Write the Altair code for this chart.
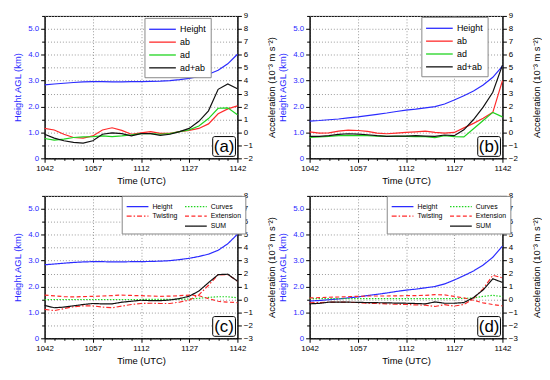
import altair as alt
import pandas as pd

FONT = "Liberation Sans"
BLUE = "#2b2bff"
RED = "#ff2a2a"
GREEN = "#1fd41f"
BLACK = "#111111"

# minutes after 10:42 UTC
times = [0, 3, 6, 9, 12, 15, 18, 21, 24, 27, 30, 33, 36, 39, 42, 45, 48, 51, 54, 57, 60]

# ---- panel (a) ----
a_height = [2.84, 2.87, 2.90, 2.93, 2.95, 2.96, 2.96, 2.95, 2.95, 2.96, 2.96, 2.97, 2.98, 3.00, 3.04, 3.09, 3.16, 3.25, 3.40, 3.65, 4.02]
a_ab = [0.31, 0.19, -0.14, -0.39, -0.44, -0.27, 0.19, 0.36, 0.16, -0.14, -0.04, 0.06, -0.07, -0.07, 0.06, 0.16, 0.31, 0.66, 1.44, 1.82, 2.05]
a_ad = [-0.47, -0.59, -0.52, -0.39, -0.34, -0.32, -0.27, -0.32, -0.27, -0.19, -0.09, -0.09, -0.14, -0.09, 0.06, 0.20, 0.50, 1.07, 1.87, 1.90, 1.37]
a_sum = [-0.14, -0.44, -0.64, -0.77, -0.82, -0.64, -0.14, -0.04, -0.09, -0.27, -0.09, -0.09, -0.22, -0.14, 0.06, 0.31, 0.86, 1.67, 3.33, 3.75, 3.38]

# ---- panel (b) ----
b_height = [1.44, 1.46, 1.49, 1.52, 1.56, 1.60, 1.65, 1.70, 1.75, 1.81, 1.86, 1.90, 1.95, 2.00, 2.10, 2.25, 2.42, 2.60, 2.83, 3.13, 3.56]
b_ab = [0.05, -0.05, -0.03, 0.10, 0.18, 0.15, 0.08, -0.05, -0.10, -0.05, 0.00, 0.05, 0.10, 0.00, -0.05, 0.00, 0.35, 0.70, 1.10, 1.55, 4.00]
b_ad = [-0.38, -0.35, -0.30, -0.25, -0.23, -0.25, -0.25, -0.28, -0.30, -0.30, -0.30, -0.33, -0.33, -0.40, -0.25, -0.33, -0.35, 0.28, 0.92, 1.55, 1.20]
b_sum = [-0.30, -0.30, -0.25, -0.15, -0.10, -0.13, -0.18, -0.25, -0.30, -0.28, -0.28, -0.25, -0.28, -0.30, -0.20, -0.25, 0.20, 1.00, 1.95, 3.10, 5.20]

# ---- panel (c) ----
c_height = [2.84, 2.87, 2.90, 2.93, 2.95, 2.96, 2.96, 2.95, 2.95, 2.96, 2.96, 2.97, 2.98, 3.00, 3.04, 3.09, 3.16, 3.25, 3.40, 3.65, 4.02]
c_curves = [-0.01, 0.0, 0.0, 0.0, 0.0, 0.0, 0.0, 0.0, 0.0, 0.0, 0.0, 0.01, 0.01, 0.01, 0.02, 0.04, 0.09, 0.16, 0.21, 0.21, 0.13]
c_twist = [-0.76, -0.86, -0.71, -0.56, -0.49, -0.49, -0.59, -0.64, -0.51, -0.39, -0.31, -0.29, -0.31, -0.31, -0.20, -0.05, 0.35, 1.10, 1.90, 1.92, 1.42]
c_ext = [0.34, 0.28, 0.22, 0.20, 0.22, 0.24, 0.27, 0.30, 0.34, 0.31, 0.29, 0.27, 0.24, 0.26, 0.29, 0.34, 0.29, 0.07, -0.14, -0.21, -0.24]
c_sum = [-0.46, -0.64, -0.59, -0.49, -0.39, -0.31, -0.34, -0.34, -0.21, -0.14, -0.06, -0.09, -0.09, -0.04, 0.07, 0.25, 0.65, 1.30, 1.92, 1.95, 1.42]

# ---- panel (d) ----
d_height = [1.44, 1.46, 1.49, 1.52, 1.56, 1.60, 1.65, 1.70, 1.75, 1.81, 1.86, 1.90, 1.95, 2.00, 2.10, 2.25, 2.42, 2.60, 2.83, 3.13, 3.56]
d_curves = [0.07, 0.07, 0.07, 0.07, 0.07, 0.07, 0.07, 0.07, 0.07, 0.07, 0.07, 0.07, 0.07, 0.07, 0.07, 0.07, 0.08, 0.12, 0.24, 0.32, 0.22]
d_twist = [-0.26, -0.24, -0.21, -0.21, -0.21, -0.24, -0.29, -0.31, -0.34, -0.37, -0.39, -0.42, -0.44, -0.54, -0.40, -0.51, -0.39, 0.07, 0.82, 1.87, 1.67]
d_ext = [0.12, 0.14, 0.17, 0.19, 0.22, 0.24, 0.27, 0.27, 0.27, 0.28, 0.29, 0.30, 0.32, 0.37, 0.35, 0.24, 0.12, -0.06, -0.26, -0.39, -0.49]
d_sum = [-0.34, -0.30, -0.21, -0.21, -0.21, -0.22, -0.24, -0.25, -0.26, -0.28, -0.29, -0.31, -0.34, -0.19, -0.29, -0.29, -0.24, 0.15, 0.74, 1.60, 1.32]

x_ticks = times
left_ticks = [0, 0.5, 1, 1.5, 2, 2.5, 3, 3.5, 4, 4.5, 5, 5.5]
ACC_TITLE = "Acceleration (10\u207b\u00b3 m s\u207b\u00b2)"

W, H = 195, 144


def long_df(series):
    rows = []
    for name, vals in series:
        for t, v in zip(times, vals):
            rows.append({"t": t, "v": v, "s": name})
    return pd.DataFrame(rows)


def x_enc():
    return alt.X(
        "t:Q",
        scale=alt.Scale(domain=[0, 60], nice=False, zero=False),
        axis=alt.Axis(
            values=x_ticks,
            title="Time (UTC)",
            labelExpr="datum.value % 15 === 0 ? '' + (floor((642 + datum.value) / 60) * 100 + (642 + datum.value) % 60) : ''",
            labelFlush=False,
            labelOverlap=False,
            grid=True,
            gridDash=[1, 2],
            gridColor="#9a9a9a",
            gridOpacity={"condition": {"test": "datum.value % 15 === 0", "value": 1}, "value": 0},
            tickSize={"condition": {"test": "datum.value % 15 === 0", "value": 4}, "value": 2},
            titlePadding=3,
        ),
    )


def panel(label, heights, acc_series, acc_dom, domain, colors, dashes, legend):
    hdf = long_df([("Height", heights)])
    adf = long_df(acc_series)
    color = alt.Color("s:N", scale=alt.Scale(domain=domain, range=colors), legend=legend)
    enc_extra = {}
    if dashes is not None:
        enc_extra["strokeDash"] = alt.StrokeDash("s:N", scale=alt.Scale(domain=domain, range=dashes), legend=legend)

    hline = alt.Chart(hdf).mark_line(strokeWidth=1.2).encode(
        x=x_enc(),
        y=alt.Y(
            "v:Q",
            scale=alt.Scale(domain=[0, 5.5], nice=False, zero=False),
            axis=alt.Axis(
                orient="left",
                values=left_ticks,
                title="Height AGL (km)",
                labelExpr="datum.value % 1 === 0 ? (datum.value === 0 ? '0' : format(datum.value, '.1f')) : ''",
                labelColor=BLUE,
                titleColor=BLUE,
                labelOverlap=False,
                grid=True,
                gridDash=[1, 2],
                gridColor="#9a9a9a",
                tickSize={"condition": {"test": "datum.value % 1 === 0", "value": 4}, "value": 3},
                titlePadding=5,
            ),
        ),
        color=color,
        **enc_extra,
    )
    aline = alt.Chart(adf).mark_line(strokeWidth=1.2).encode(
        x=x_enc(),
        y=alt.Y(
            "v:Q",
            scale=alt.Scale(domain=acc_dom, nice=False, zero=False),
            axis=alt.Axis(
                orient="right",
                values=list(range(acc_dom[0], acc_dom[1] + 1)),
                title=ACC_TITLE,
                format="d",
                grid=False,
                labelOverlap=False,
                titleAngle=270,
                titleBaseline="top",
                titlePadding=14,
            ),
        ),
        color=color,
        **enc_extra,
    )
    lab = alt.Data(values=[{"lab": label}])
    box = alt.Chart(lab).mark_rect(fill="white", stroke="black", strokeWidth=1, cornerRadius=2).encode(
        x=alt.value(W - 25), x2=alt.value(W - 2), y=alt.value(H - 22), y2=alt.value(H - 2)
    )
    txt = alt.Chart(lab).mark_text(font=FONT, fontSize=17, align="center", baseline="middle").encode(
        x=alt.value(W - 13.5), y=alt.value(H - 11.5), text="lab:N"
    )
    return alt.layer(hline, aline, box, txt).resolve_scale(y="independent").properties(width=W, height=H)


# legend line symbol: a path anchored at the entry's left edge, 4 half-sizes long
LINE_SYM = "M-1,0H3"


def legend4(lx, ly):
    return alt.Legend(
        title=None, orient="none", legendX=lx, legendY=ly,
        fillColor="white", strokeColor="#888888", padding=4,
        labelFont=FONT, labelFontSize=9, symbolType=LINE_SYM, symbolSize=182,
        symbolStrokeWidth=1.3, rowPadding=-5, labelOffset=17,
    )


def legend5(lx, ly):
    return alt.Legend(
        title=None, orient="none", legendX=lx, legendY=ly, columns=2,
        fillColor="white", strokeColor="#888888", padding=4,
        labelFont=FONT, labelFontSize=7, symbolType=LINE_SYM, symbolSize=121,
        symbolStrokeWidth=1.3, rowPadding=0, columnPadding=4, labelOffset=14,
    )


dom4 = ["Height", "ab", "ad", "ad+ab"]
col4 = [BLUE, RED, GREEN, BLACK]
# legend grid is filled column by column: Height/Twisting/(blank) | Curves/Extension/SUM
dom5 = ["Height", "Twisting", " ", "Curves", "Extension", "SUM"]
col5 = [BLUE, RED, "rgba(0,0,0,0)", GREEN, RED, BLACK]
dash5 = [[1, 0], [5, 2, 1.5, 2], [1, 0], [1.5, 1.5], [4, 2.5], [1, 0]]

pa = panel("(a)", a_height, [("ab", a_ab), ("ad", a_ad), ("ad+ab", a_sum)], [-2, 9], dom4, col4, None, legend4(101, 2))
pb = panel("(b)", b_height, [("ab", b_ab), ("ad", b_ad), ("ad+ab", b_sum)], [-2, 9], dom4, col4, None, legend4(113, 1))
pc = panel("(c)", c_height, [("Curves", c_curves), ("Twisting", c_twist), ("Extension", c_ext), ("SUM", c_sum)], [-3, 8], dom5, col5, dash5, legend5(78, 0))
pd_ = panel("(d)", d_height, [("Curves", d_curves), ("Twisting", d_twist), ("Extension", d_ext), ("SUM", d_sum)], [-3, 8], dom5, col5, dash5, legend5(78, 0))

chart = (
    alt.concat(pa, pb, pc, pd_, columns=2, spacing={"row": 6, "column": 0})
    .resolve_scale(color="independent", strokeDash="independent")
    .properties(padding={"left": 4, "top": 1, "right": 0, "bottom": 0})
    .configure(font=FONT)
    .configure_view(stroke="black", strokeWidth=1)
    .configure_axis(
        labelFont=FONT, titleFont=FONT, labelFontSize=8, titleFontSize=9.5,
        titleFontWeight="normal", domainColor="black", tickColor="black",
        labelColor="black", titleColor="black", tickSize=4, labelPadding=2,
    )
)

chart.save("out.html", embed_options={"renderer": "svg", "actions": False})
